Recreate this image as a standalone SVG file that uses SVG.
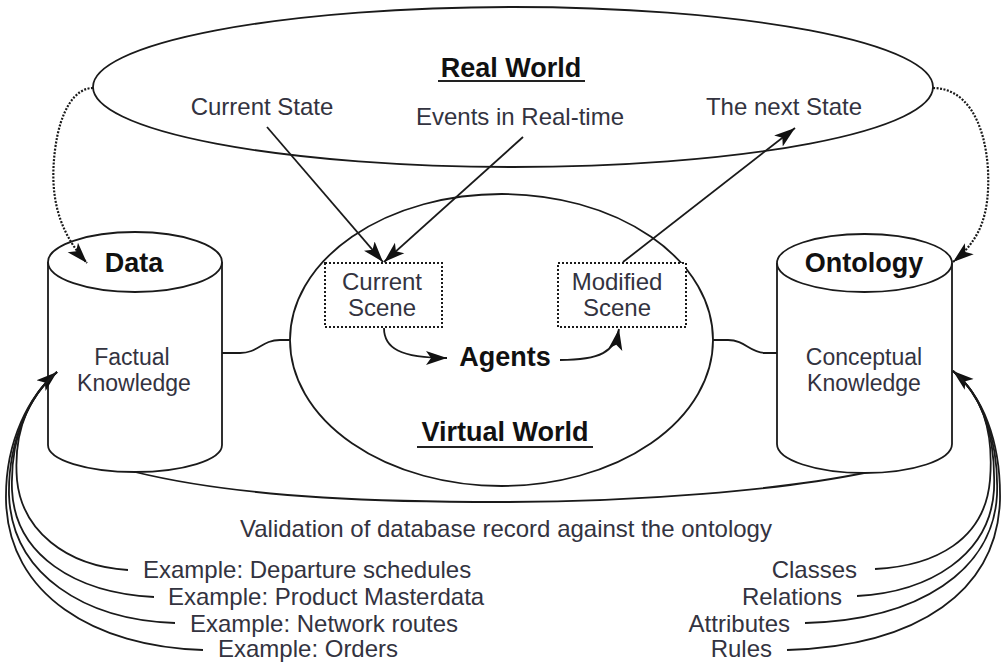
<svg xmlns="http://www.w3.org/2000/svg" width="1002" height="662" viewBox="0 0 1002 662">
<style>
.shape{fill:none;stroke:#1a1a1a;stroke-width:1.8}
.cyl{fill:#fff;stroke:#1a1a1a;stroke-width:1.8}
.dash{fill:none;stroke:#1a1a1a;stroke-width:2.2;stroke-dasharray:2,1.5}
.box{fill:#fff;stroke:#1a1a1a;stroke-width:2;stroke-dasharray:2,2}
.ln{fill:none;stroke:#1a1a1a;stroke-width:1.8}
.t{font-family:"Liberation Sans",Arial,sans-serif;font-size:24px;fill:#333340}
.k{font-size:23px}
.b{font-family:"Liberation Sans",Arial,sans-serif;font-size:27px;font-weight:bold;fill:#111}
.m{text-anchor:middle}
.u{stroke:#222;stroke-width:1.8}
</style>
<defs>
<marker id="ah" markerUnits="userSpaceOnUse" markerWidth="24" markerHeight="16" refX="21" refY="8" orient="auto">
<path d="M0,1 L21,8 L0,15 L5,8 z" fill="#111"/>
</marker>
</defs>

<g id="real-world">
<ellipse class="shape" cx="513" cy="87" rx="420" ry="80"/>
<text class="b m" x="511" y="77">Real World</text>
<line class="u" x1="438" y1="81" x2="585" y2="81"/>
<text class="t m" x="262" y="115">Current State</text>
<text class="t m" x="520" y="125">Events in Real-time</text>
<text class="t m" x="784" y="115">The next State</text>
</g>

<g id="lower-arc">
<path class="shape" d="M135,472 C250,500 400,502 500,502 C640,502 780,490 864,473"/>
</g>

<g id="data">
<path class="cyl" d="M48,262 L48,445 A87,27 0 0 0 222,445 L222,262"/>
<ellipse class="cyl" cx="135" cy="262" rx="87" ry="30"/>
<text class="b m" x="134" y="272">Data</text>
<text class="t k m" x="132" y="365">Factual</text>
<text class="t k m" x="134" y="391">Knowledge</text>
</g>

<g id="ontology">
<path class="cyl" d="M777,263 L777,444 A87.5,29 0 0 0 952,444 L952,263"/>
<ellipse class="cyl" cx="864.5" cy="263" rx="87.5" ry="29"/>
<text class="b m" x="864" y="272">Ontology</text>
<text class="t k m" x="864" y="365">Conceptual</text>
<text class="t k m" x="864" y="391">Knowledge</text>
</g>

<g id="virtual-world">
<ellipse class="shape" cx="501.5" cy="340" rx="211.5" ry="146"/>
<text class="b m" x="505" y="441">Virtual World</text>
<line class="u" x1="417" y1="447" x2="593" y2="447"/>
</g>

<g id="current-scene">
<rect class="box" x="325" y="263" width="117" height="64"/>
<text class="t m" x="382" y="290">Current</text>
<text class="t m" x="382" y="316">Scene</text>
</g>

<g id="modified-scene">
<rect class="box" x="558" y="263" width="128" height="64"/>
<text class="t m" x="617" y="290">Modified</text>
<text class="t m" x="617" y="316">Scene</text>
</g>

<g id="agents">
<text class="b m" x="505" y="366">Agents</text>
</g>

<g id="labels">
<text class="t m" x="506" y="537">Validation of database record against the ontology</text>
<text class="t" x="143" y="578">Example: Departure schedules</text>
<text class="t" x="168" y="605">Example: Product Masterdata</text>
<text class="t" x="190" y="632">Example: Network routes</text>
<text class="t" x="218" y="657">Example: Orders</text>
<text class="t" x="857" y="578" text-anchor="end">Classes</text>
<text class="t" x="842" y="605" text-anchor="end">Relations</text>
<text class="t" x="790" y="632" text-anchor="end">Attributes</text>
<text class="t" x="772" y="657" text-anchor="end">Rules</text>
</g>

<g id="connectors">
<path class="dash" d="M93,88 C75,88 60,110 55,150 C50,190 55,228 87,263" marker-end="url(#ah)"/>
<path class="dash" d="M933,88 C965,88 985,120 988,170 C990,215 980,240 953,262" marker-end="url(#ah)"/>
<line class="ln" x1="267" y1="127" x2="383" y2="262" marker-end="url(#ah)"/>
<line class="ln" x1="523" y1="137" x2="384" y2="262" marker-end="url(#ah)"/>
<line class="ln" x1="623" y1="262" x2="795" y2="128" marker-end="url(#ah)"/>
<path class="ln" d="M384,328 C384,348 400,358 447,358" marker-end="url(#ah)"/>
<path class="ln" d="M560,360 C600,360 615,352 619,329" marker-end="url(#ah)"/>
<path class="ln" d="M222,353 L240,353 C258,353 262,340 280,340 L290,340"/>
<path class="ln" d="M713,340 L728,340 C745,340 750,353 765,353 L777,353"/>
<path class="ln" d="M128,570 C65,566 22,530 17,480 C13,430 30,395 57,372" marker-end="url(#ah)"/>
<path class="ln" d="M154,597 C75,593 15,555 12,490 C10,435 30,395 57,372"/>
<path class="ln" d="M175,623 C85,620 12,575 9,495 C8,440 30,395 57,372"/>
<path class="ln" d="M203,650 C95,647 8,595 6,500 C5,440 30,395 57,372"/>
<path class="ln" d="M875,569 C935,566 985,540 990,480 C994,430 982,395 953,371" marker-end="url(#ah)"/>
<path class="ln" d="M857,596 C930,592 990,555 994,490 C996,435 982,395 953,371"/>
<path class="ln" d="M805,623 C920,620 993,570 997,495 C999,440 982,395 953,371"/>
<path class="ln" d="M787,650 C920,646 997,590 1000,500 C1001,440 982,395 953,371"/>
</g>
</svg>
